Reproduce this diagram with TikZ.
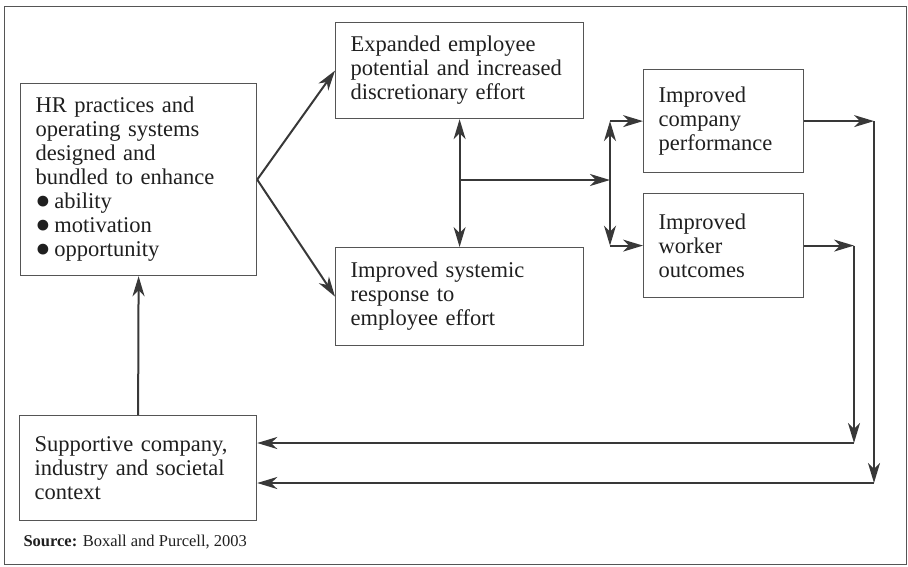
\documentclass[tikz,border=0pt]{standalone}
\usepackage{fontspec}
\setmainfont{Liberation Serif}
\usepackage{tikz}
\usetikzlibrary{positioning,arrows.meta}

\definecolor{linegray}{HTML}{383838}
\definecolor{boxgray}{HTML}{555555}

\newcommand{\bulletdot}{\smash{\raisebox{-0.34em}{\scalebox{2}{\textbullet}}}\hspace{3pt}}

\tikzset{
  box/.style={draw=boxgray, line width=1.2pt, anchor=north west, align=left,
    inner xsep=15pt, inner ysep=0pt, text=black!88,
    font=\fontsize{22.5}{24}\selectfont},
  tip/.tip={Stealth[length=20pt,width=12pt,inset=6pt]},
  flow/.style={draw=linegray, line width=2pt, -tip},
  flowboth/.style={draw=linegray, line width=2pt, tip-tip},
}

\begin{document}
\begin{tikzpicture}[x=1pt,y=-1pt]
\useasboundingbox (0,0) rectangle (908,566);

% Rahmen
\draw[boxgray, line width=0.8pt] (4,6) rectangle (906,564);

% Kaesten
\node[box, minimum width=236, minimum height=192, text width=206] (hr) at (20,83)
  {HR practices and\\ operating systems\\ designed and\\ bundled to enhance\\
   \bulletdot ability\\ \bulletdot motivation\\ \bulletdot opportunity};
\node[box, minimum width=248, minimum height=96, text width=218] (exp) at (335,22)
  {Expanded employee\\ potential and increased\\ discretionary effort};
\node[box, minimum width=248, minimum height=98, text width=218] (sys) at (335,247)
  {Improved systemic\\ response to\\ employee effort};
\node[box, minimum width=160, minimum height=103, text width=130] (comp) at (643,69)
  {Improved\\ company\\ performance};
\node[box, minimum width=160, minimum height=104, text width=130] (work) at (643,193)
  {Improved\\ worker\\ outcomes};
\node[box, minimum width=237, minimum height=105, text width=207] (supp) at (19,415)
  {Supportive company,\\ industry and societal\\ context};

% Quelle
\node[anchor=base west, text=black!88, font=\fontsize{16.5}{18}\selectfont] (src) at (20,546)
  {\textbf{Source:} Boxall and Purcell, 2003};

% Hilfspunkte
\coordinate (mid) at (459,180);
\coordinate (split) at (610,180);
\coordinate (upret) at (854,443);
\coordinate (lowret) at (874,483);

% Pfeile nach rechts
\draw[flow] (hr.east) -- (exp.west);
\draw[flow] (hr.east) -- (sys.west);
\draw[flowboth] (exp.south) -- (sys.north);
\draw[flow] (mid) -- (split);
\draw[flowboth] (split |- comp.west) -- (split |- work.west);
\draw[flow] (split |- comp.west) -- (comp.west);
\draw[flow] (split |- work.west) -- (work.west);

% Rueckkopplung
\draw[flow] (comp.east) -- (comp.east -| lowret);
\draw[flow] (comp.east -| lowret) -- (lowret);
\draw[flow] (lowret) -- (lowret -| supp.east);
\draw[flow] (work.east) -- (work.east -| upret);
\draw[flow] (work.east -| upret) -- (upret);
\draw[flow] (upret) -- (upret -| supp.east);
\draw[flow] (supp.north) -- (hr.south);
\end{tikzpicture}
\end{document}
